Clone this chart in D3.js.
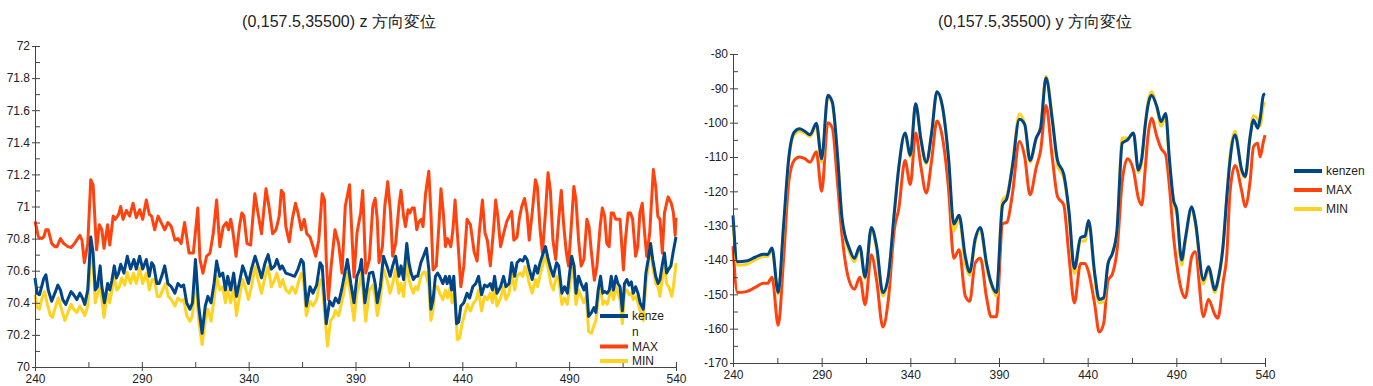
<!DOCTYPE html>
<html>
<head>
<meta charset="utf-8">
<script src="https://cdn.jsdelivr.net/npm/d3@7"></script>
<style>
  body { margin: 0; background: #fff; }
  svg { display: block; font-family: "Liberation Sans", Arial, sans-serif; }
</style>
</head>
<body>
<svg id="chart" width="1373" height="386"></svg>
<script>
// 系列名と色
const seriesNames = ['kenzen', 'MAX', 'MIN'];
const seriesColors = ['#004586', '#ff420e', '#ffd320'];

// 目盛り
const xTicks = [240, 290, 340, 390, 440, 490, 540];
const zTicks = [70, 70.2, 70.4, 70.6, 70.8, 71, 71.2, 71.4, 71.6, 71.8, 72];
const yTicks = [-170, -160, -150, -140, -130, -120, -110, -100, -90, -80];

// タイトル
const zTitle = '(0,157.5,35500) z 方向変位';
const yTitle = '(0,157.5,35500) y 方向変位';

// z 方向変位 [時刻, 値]
const zMax = [[240,70.907],[241.6,70.81],[243.1,70.80],[244.1,70.81],[245.1,70.855],[246.2,70.855],[247.8,70.77],[249.3,70.75],[250.3,70.75],[251.9,70.80],[253.4,70.77],[255.4,70.75],[256.9,70.745],[258.5,70.77],[261,70.82],[262,70.79],[263.1,70.65],[264.7,70.77],[266.1,71.166],[267.2,71.135],[268.8,70.73],[270.1,70.886],[271.3,70.855],[272.3,70.74],[274,70.886],[275,70.76],[276.6,70.94],[277.5,70.92],[279.1,70.95],[280.1,71.0],[281.2,70.92],[282.8,70.975],[284.3,70.94],[285.9,71.02],[287.4,70.93],[289,70.98],[290.4,70.92],[292.1,71.04],[293.5,70.95],[294.6,70.94],[296,70.855],[297.6,70.94],[299.1,70.9],[300.7,70.855],[302.2,70.9],[303.8,70.875],[305.5,70.79],[306.9,70.80],[308.4,70.77],[310,70.9],[312.1,70.71],[314.1,70.71],[316.2,70.99],[317.2,70.67],[318.6,70.585],[320.3,70.69],[321.9,70.71],[323.4,70.83],[325,71.04],[326.5,70.75],[328.1,70.875],[329.6,70.9],[330.6,70.855],[331.6,70.92],[332.6,70.845],[334.1,70.69],[335.7,70.875],[336.8,70.96],[337.8,70.94],[339.2,70.77],[340.9,70.76],[342.9,71.08],[344.6,70.94],[346,70.83],[348.1,71.11],[349.5,71.0],[351.2,70.83],[352.8,70.855],[354.3,70.94],[355.3,71.10],[356.3,71.08],[357.4,70.875],[359,70.78],[360.4,70.92],[361.9,71.02],[363.1,70.96],[364.6,70.855],[366,70.92],[367.2,70.83],[368.7,70.81],[370.1,70.75],[371.4,70.69],[372.8,70.79],[374.4,71.08],[375.5,71.04],[376.3,70.67],[377.3,70.42],[378.6,70.63],[380.4,70.855],[382.1,70.77],[383.7,70.585],[385.2,71.0],[387.2,71.135],[389.3,70.56],[390.7,70.835],[392.4,70.96],[393.4,71.10],[394.8,70.585],[396.5,70.67],[398.1,71.0],[399.2,71.05],[400.2,70.92],[401,70.65],[402.6,70.75],[403.7,71.0],[405.1,71.155],[406.4,70.96],[407.4,70.69],[408.8,70.77],[410.3,71.0],[411.3,71.10],[412.5,70.94],[413.4,70.875],[414.6,70.98],[415.4,70.96],[416.5,70.99],[417.5,70.99],[418.7,70.855],[419.5,70.9],[420.8,70.92],[421.6,70.875],[422.8,71.08],[424.3,71.22],[425.3,70.96],[426.3,70.605],[427.8,70.63],[429,70.875],[430,71.11],[431.1,70.96],[432.1,70.75],[433.1,70.80],[434.6,70.75],[435.6,70.855],[436.6,71.04],[438.1,70.75],[439.3,70.5],[440.7,70.63],[442.2,70.92],[443.8,70.886],[445.5,70.72],[446.9,70.66],[447.9,70.835],[449.4,71.04],[450.6,70.835],[451.7,70.79],[453.1,70.63],[454.6,70.855],[455.6,71.04],[456.6,70.94],[457.9,70.75],[459.3,70.83],[460.8,70.907],[462,70.94],[463.1,70.97],[464.1,70.79],[465.6,70.81],[466.6,70.92],[467.8,71.0],[469.1,71.05],[470.3,70.96],[471.3,70.79],[472.7,70.96],[474.2,71.166],[475.1,71.125],[476.4,70.855],[477.5,70.71],[478.9,70.96],[480.1,71.21],[481.2,71.10],[482.4,70.79],[483.7,70.67],[485.1,70.92],[486.3,71.10],[487.5,70.875],[488.7,70.71],[489.7,70.63],[491.2,70.92],[492.2,71.125],[493.2,71.04],[494.4,70.79],[495.6,70.63],[496.9,70.67],[498.3,70.92],[499.3,70.875],[500.3,70.73],[501.8,70.54],[503,70.63],[504.5,70.875],[505.5,70.99],[506.6,70.94],[507.6,70.77],[508.7,70.75],[509.7,70.96],[510.7,70.96],[511.8,70.92],[512.8,70.92],[513.8,70.92],[515.4,70.605],[516.3,70.79],[517.6,70.96],[518.7,70.96],[519.7,70.92],[521.1,70.69],[522.1,70.75],[523.1,70.96],[524.2,71.02],[525.3,70.835],[526.3,70.69],[527.7,70.835],[529.4,71.23],[530.5,71.125],[531.5,70.94],[532.5,70.92],[533.6,70.71],[534.6,70.96],[536.3,71.06],[537.8,71.02],[538.8,70.96],[539.6,70.82],[540,70.93]];

const zKenzen = [[240,70.554],[241,70.46],[242.1,70.45],[243.1,70.5],[244.1,70.55],[245.1,70.575],[246.2,70.48],[247.8,70.41],[249.3,70.46],[250.7,70.51],[251.9,70.48],[253,70.42],[254.4,70.39],[255.6,70.43],[256.9,70.47],[258.1,70.45],[259.6,70.42],[261,70.46],[262.2,70.43],[263.3,70.39],[264.7,70.48],[266.1,70.81],[267.2,70.71],[268.2,70.48],[269.2,70.5],[270.5,70.63],[271.3,70.5],[272.5,70.40],[274,70.52],[275,70.48],[276,70.54],[277.1,70.63],[278.1,70.555],[279.1,70.585],[280.1,70.64],[281.6,70.585],[283.2,70.69],[284.7,70.61],[286.3,70.67],[287.4,70.61],[289,70.69],[290.4,70.61],[292.1,70.67],[293.5,70.565],[294.6,70.65],[295.6,70.63],[297,70.52],[298.1,70.52],[299.3,70.565],[300.7,70.63],[302.2,70.52],[303.8,70.50],[305.5,70.46],[306.9,70.52],[308.4,70.5],[309.6,70.51],[311,70.40],[312.5,70.36],[313.7,70.40],[315.1,70.67],[316.6,70.38],[318.2,70.21],[319.7,70.38],[320.9,70.44],[322.4,70.40],[323.8,70.52],[325,70.66],[326.5,70.565],[327.9,70.585],[329.1,70.48],[330.2,70.565],[331.6,70.48],[333,70.585],[334.3,70.44],[335.7,70.53],[337.2,70.63],[338.4,70.585],[339.9,70.52],[341.3,70.61],[343,70.69],[344.4,70.63],[346,70.555],[347.7,70.65],[349.1,70.70],[350.6,70.61],[352.2,70.63],[353.2,70.67],[354.7,70.61],[355.7,70.63],[357.4,70.585],[359.4,70.575],[361.5,70.565],[363.1,70.61],[364.6,70.67],[365.6,70.65],[367,70.38],[368.7,70.50],[370.1,70.46],[371.8,70.51],[373.4,70.65],[374.4,70.63],[376.3,70.27],[377.9,70.41],[379.4,70.38],[380.6,70.43],[382.1,70.40],[383.5,70.48],[384.5,70.55],[386.2,70.67],[387.8,70.52],[389.3,70.40],[390.7,70.565],[392,70.61],[392.8,70.67],[394.4,70.40],[396.5,70.585],[398.1,70.59],[399.2,70.52],[400.2,70.40],[401.6,70.50],[403.1,70.69],[404.7,70.63],[406.2,70.565],[407.4,70.63],[408.8,70.69],[410.3,70.565],[411.3,70.63],[412.5,70.545],[414,70.77],[415,70.65],[416,70.585],[417.1,70.545],[418.1,70.565],[419.1,70.565],[420.6,70.65],[421.8,70.69],[423.2,70.74],[424.3,70.61],[425.3,70.36],[426.3,70.42],[427.4,70.565],[428.4,70.585],[429.4,70.565],[430.9,70.52],[432.1,70.565],[432.9,70.52],[434,70.565],[435,70.48],[436,70.565],[437.3,70.27],[438.3,70.28],[439.3,70.38],[440.7,70.40],[442.2,70.46],[443.4,70.43],[444.9,70.50],[446.3,70.52],[447.6,70.565],[449,70.45],[450.4,70.51],[451.7,70.50],[453.1,70.52],[454.1,70.48],[455.1,70.565],[456.2,70.46],[457.9,70.50],[459.3,70.565],[460.4,70.50],[461.9,70.52],[463.1,70.65],[464.5,70.565],[465.6,70.65],[467,70.67],[468.3,70.66],[469.3,70.69],[470.3,70.67],[471.3,70.61],[472.7,70.545],[474.2,70.63],[475.2,70.585],[476.4,70.65],[477.9,70.71],[478.9,70.75],[480.2,70.67],[481.4,70.61],[482.6,70.565],[484.1,70.65],[485.1,70.63],[486.6,70.46],[487.8,70.50],[489.2,70.46],[490.2,70.585],[491.2,70.69],[492.3,70.63],[493.2,70.46],[494.4,70.565],[495.6,70.52],[496.9,70.48],[498,70.52],[499.1,70.315],[500.5,70.34],[501.6,70.37],[502.5,70.34],[503.6,70.48],[504.7,70.565],[505.7,70.46],[506.7,70.47],[507.8,70.46],[508.8,70.48],[509.7,70.565],[510.7,70.48],[511.9,70.565],[512.8,70.52],[513.8,70.50],[514.9,70.35],[515.9,70.52],[517,70.545],[518,70.51],[519.1,70.53],[520,70.46],[521.1,70.50],[522.2,70.46],[523.2,70.40],[524.7,70.36],[525.9,70.585],[527,70.67],[528.1,70.77],[529.1,70.67],[530.5,70.565],[531.6,70.52],[532.5,70.545],[533.5,70.63],[534.6,70.71],[535.6,70.585],[536.6,70.61],[537.6,70.63],[538.6,70.71],[540,70.81]];

const zMin = [[240,70.45],[241,70.37],[242.1,70.36],[243.1,70.42],[244.5,70.47],[245.8,70.39],[247.2,70.32],[248.2,70.31],[249.7,70.38],[250.9,70.43],[252.4,70.36],[254,70.29],[255.4,70.34],[256.9,70.39],[258.1,70.36],[259.6,70.34],[261,70.38],[262.2,70.35],[263.3,70.32],[264.7,70.38],[266.1,70.71],[267.2,70.65],[268.2,70.40],[269.4,70.46],[270.5,70.52],[271.3,70.42],[272.3,70.31],[273.8,70.46],[275,70.40],[276,70.48],[277.1,70.555],[278.3,70.48],[279.5,70.50],[280.6,70.555],[282,70.51],[283.2,70.59],[284.7,70.52],[286.1,70.585],[287.4,70.52],[289,70.615],[290.4,70.52],[292.1,70.585],[293.5,70.48],[294.8,70.545],[296,70.545],[297.2,70.44],[298.5,70.44],[299.7,70.48],[301.1,70.52],[302.4,70.44],[303.8,70.42],[305.5,70.38],[306.9,70.43],[308.4,70.41],[309.6,70.42],[311,70.32],[312.5,70.285],[313.7,70.32],[315.1,70.585],[316.6,70.29],[318.2,70.14],[319.7,70.29],[320.9,70.36],[322.4,70.285],[323.8,70.42],[325,70.565],[326.5,70.48],[327.9,70.50],[329.1,70.40],[330.2,70.48],[331.6,70.40],[333,70.50],[334.3,70.32],[335.7,70.44],[337.2,70.545],[338.4,70.50],[339.9,70.42],[341.3,70.50],[343,70.625],[344.4,70.545],[346,70.46],[347.7,70.565],[349.1,70.625],[350.6,70.50],[352.2,70.545],[353.2,70.585],[354.7,70.50],[355.9,70.545],[357.4,70.48],[359,70.46],[360.4,70.50],[361.9,70.46],[363.1,70.52],[364.6,70.585],[365.6,70.545],[367,70.32],[368.7,70.41],[370.1,70.38],[371.8,70.42],[373.4,70.545],[374.4,70.52],[376.9,70.13],[378.3,70.29],[379.6,70.31],[380.6,70.35],[382.1,70.32],[383.5,70.40],[384.5,70.46],[386.2,70.585],[387.8,70.44],[389.3,70.29],[390.7,70.46],[392,70.52],[392.8,70.585],[394.8,70.285],[396.5,70.48],[398.1,70.51],[399.2,70.44],[400.2,70.32],[401.6,70.42],[403.1,70.61],[404.7,70.545],[406.2,70.46],[407.4,70.52],[408.8,70.61],[410.3,70.46],[411.3,70.52],[412.5,70.44],[414,70.67],[415,70.545],[416,70.50],[417.1,70.46],[418.1,70.50],[419.1,70.48],[420.6,70.565],[421.8,70.59],[422.8,70.59],[424.3,70.50],[425.3,70.29],[426.3,70.36],[427.4,70.50],[428.4,70.50],[429.4,70.46],[430.9,70.42],[432.1,70.48],[433.1,70.43],[434.2,70.49],[435.2,70.40],[436.3,70.48],[437.7,70.17],[438.8,70.18],[439.7,70.26],[441.1,70.33],[442.4,70.39],[443.8,70.35],[445.3,70.40],[446.5,70.42],[447.6,70.48],[449,70.35],[450.4,70.44],[451.7,70.42],[453.1,70.46],[454.1,70.40],[455.1,70.50],[456.2,70.38],[457.9,70.43],[459.3,70.50],[460.4,70.42],[461.9,70.46],[463.1,70.585],[464.5,70.48],[465.6,70.565],[467,70.585],[468.3,70.565],[469.3,70.625],[470.3,70.585],[471.3,70.52],[472.7,70.46],[474.2,70.545],[475.2,70.50],[476.4,70.575],[477.9,70.65],[478.9,70.69],[480.2,70.61],[481.4,70.52],[482.6,70.48],[484.1,70.565],[485.1,70.545],[486.6,70.39],[487.8,70.43],[489.2,70.39],[490.2,70.50],[491.2,70.625],[492.3,70.545],[493.2,70.39],[494.4,70.48],[495.6,70.44],[496.9,70.40],[498,70.44],[499.1,70.22],[500.5,70.21],[501.6,70.26],[502.5,70.29],[503.6,70.42],[504.7,70.50],[505.7,70.39],[506.7,70.41],[507.8,70.39],[508.8,70.44],[509.7,70.50],[510.7,70.42],[511.9,70.50],[512.8,70.46],[513.8,70.42],[514.9,70.27],[515.9,70.46],[517,70.48],[518,70.45],[519.1,70.46],[520,70.42],[521.1,70.44],[522.2,70.40],[523.2,70.35],[524.7,70.29],[525.9,70.52],[527,70.625],[528.1,70.77],[529.1,70.625],[530.5,70.52],[531.6,70.50],[532.5,70.44],[533.5,70.545],[534.6,70.625],[535.6,70.52],[536.6,70.50],[538,70.44],[538.8,70.50],[540,70.647]];

// y 方向変位: 共通の時刻と各系列の値
const yTime = [240,242.5,247.5,252.5,257,259.5,262,265.5,268.5,271.5,274.5,277.5,280.5,283.5,287,290,293.5,296,299,301.5,305.5,308.5,311.5,314.5,318,321,324.5,327.5,331,333.5,337,340,343,346,349,352,355,358,361.5,364.5,367.5,371,373.5,376.5,379.5,383,385.5,388.5,392,394.5,397.5,401.5,404.5,407.5,411,413.5,416.5,420,423,426.5,429.5,432.5,436,438.5,440.5,444,446.5,449,451.5,454,456.5,459.5,462.5,465.8,468.6,470.5,472.4,474,476,479,481.4,484,486,488.4,490.2,493,495,498.7,500.6,505.3,508.1,511.8,513.4,516.5,518.4,520.3,523.1,526.9,528.8,531.6,533.5,535.9,537.2,539.1,540];
const yKenzen = [-127,-140.5,-140.3,-139.2,-138.3,-138.4,-136.5,-149.5,-130,-110,-102.8,-101.8,-102.5,-103.5,-100.2,-110.5,-92,-94,-110,-128,-136.5,-139.5,-136,-145,-130.5,-136,-149.5,-145,-126,-113,-103,-109.5,-94.5,-105,-111.5,-103,-91,-95,-110,-129.5,-127,-139,-143.5,-134,-130.5,-141,-146.5,-149.5,-124,-122,-113,-99,-100.5,-111,-104.5,-101.5,-87,-99,-111,-115,-126,-142.5,-133.5,-133,-128.5,-144,-151.5,-151,-141,-138,-131.5,-106,-105,-103,-113.8,-110.4,-101,-95,-92,-95.3,-99.7,-97.3,-110,-122.5,-125.4,-140,-134,-124.5,-128.4,-145.8,-142,-148.7,-146,-135.1,-122,-110.9,-103.6,-113.8,-115.7,-104.1,-99.2,-101.6,-99,-92,-91.5];
const yMax = [-136,-149.5,-149.2,-148,-146.8,-146.8,-145,-159,-140,-117,-111,-110,-110.5,-111.5,-108.5,-120,-100,-101.5,-118,-133,-146,-148.5,-145,-153,-138.5,-146,-159.5,-152,-131,-125,-111,-118,-103,-113,-120.5,-111,-99.5,-104,-119,-139.5,-137,-150.5,-152,-141,-139.5,-151,-156.5,-156.5,-129.5,-129,-121,-105.5,-110,-121,-113,-108,-95,-110,-121.5,-124,-139,-152.5,-141,-141,-143.5,-153,-161,-158.5,-146,-144,-137.5,-117,-110.5,-113.8,-122,-124,-113.8,-104,-98.7,-104,-107.5,-109.4,-118,-133,-141,-149,-151,-139,-137.6,-156.5,-151.5,-156,-157,-146,-139,-120,-112.5,-120,-124.5,-117,-107,-106,-110,-105.5,-103.6];
const yMin = [-129,-141.5,-141.3,-140,-139,-139,-137,-150,-131,-111,-103.5,-102.5,-103,-104,-101,-111.5,-92.5,-94.5,-110,-128,-137.5,-140.5,-136.5,-145.5,-131,-137,-150.5,-145.5,-126,-113,-103.5,-110,-94.5,-104.5,-112,-103,-91,-95,-110.5,-131.5,-128,-141,-144.5,-135,-131,-142,-147,-150.5,-122.5,-121,-112.5,-97.5,-100.5,-111.5,-104.5,-101,-86.5,-98,-112.5,-116,-127,-144,-134.5,-134.5,-129,-145,-152.5,-152,-141,-138,-132,-104.5,-104.5,-103,-114.5,-111.5,-101,-94,-91,-95.5,-101,-98.5,-111,-123,-126.5,-141.5,-135,-125,-129,-147,-143,-149.5,-147,-135,-122.5,-109.5,-102.5,-114.5,-116,-104,-98,-99,-101,-95,-94];

const svg = d3.select('#chart');

// 小目盛り: 主目盛りの中間
function midTicks(ticks) {
    const out = [];
    for (let i = 0; i < ticks.length - 1; i++) out.push((ticks[i] + ticks[i + 1]) / 2);
    return out;
}

function drawPanel(p) {
    const g = svg.append('g');
    const x = d3.scaleLinear().domain([xTicks[0], xTicks[xTicks.length - 1]]).range([p.left, p.right]);
    const y = d3.scaleLinear().domain([p.yTicks[0], p.yTicks[p.yTicks.length - 1]]).range([p.bottom, p.top]);

    // タイトル
    g.append('text')
        .attr('x', p.titleX)
        .attr('y', 27)
        .attr('text-anchor', 'middle')
        .style('font-size', '16px')
        .style('fill', '#222')
        .text(p.title);

    // 系列の線 (MAX, MIN, kenzen の順で重ねる)
    const line = d3.line().x(d => x(d[0])).y(d => y(d[1])).curve(p.curve);
    [1, 2, 0].forEach(i => {
        g.append('path')
            .datum(p.series[i])
            .attr('fill', 'none')
            .attr('stroke', seriesColors[i])
            .attr('stroke-width', 3)
            .attr('stroke-linejoin', 'round')
            .attr('d', line);
    });

    // Y 軸
    const yAxis = g.append('g')
        .attr('transform', `translate(${p.left},0)`)
        .call(d3.axisLeft(y).tickValues(p.yTicks).tickSizeInner(3).tickSizeOuter(0).tickPadding(2).tickFormat(d => String(d)));
    g.append('g')
        .attr('transform', `translate(${p.left},0)`)
        .call(d3.axisLeft(y).tickValues(p.yTicks.concat(midTicks(p.yTicks))).tickSize(-5).tickFormat(''))
        .select('.domain').remove();

    // X 軸
    const xAxis = g.append('g')
        .attr('transform', `translate(0,${p.bottom})`)
        .call(d3.axisBottom(x).tickValues(xTicks).tickSizeInner(4).tickSizeOuter(0).tickPadding(3));
    g.append('g')
        .attr('transform', `translate(0,${p.bottom})`)
        .call(d3.axisBottom(x).tickValues(xTicks.concat(midTicks(xTicks))).tickSize(-5).tickFormat(''))
        .select('.domain').remove();

    g.selectAll('.tick line, .domain').attr('stroke', '#444');
    g.selectAll('.tick text')
        .style('font-size', '12px')
        .style('font-family', '"Liberation Sans", Arial, sans-serif')
        .style('fill', '#222');

    // 凡例
    let ly = p.legendY;
    seriesNames.forEach((name, i) => {
        g.append('line')
            .attr('x1', p.legendX).attr('x2', p.legendX + 28)
            .attr('y1', ly).attr('y2', ly)
            .attr('stroke', seriesColors[i])
            .attr('stroke-width', 4);
        const t = g.append('text')
            .attr('x', p.legendX + 32)
            .attr('y', ly + 4)
            .style('font-size', '12px')
            .style('fill', '#222');
        // 幅に収まらない名前は折り返す
        let line1 = name;
        t.text(line1);
        while (t.node().getComputedTextLength() > p.legendWidth && line1.length > 1) {
            line1 = line1.slice(0, -1);
            t.text(line1);
        }
        if (line1 !== name) {
            t.text(null);
            t.append('tspan').attr('x', p.legendX + 32).text(line1);
            t.append('tspan').attr('x', p.legendX + 32).attr('dy', 16).text(name.slice(line1.length));
            ly += 16;
        }
        ly += p.legendGap;
    });
}

drawPanel({
    title: zTitle, titleX: 339,
    left: 35, right: 676, top: 46, bottom: 367,
    yTicks: zTicks,
    series: [zKenzen, zMax, zMin],
    curve: d3.curveLinear,
    legendX: 600, legendY: 316, legendGap: 14.5, legendWidth: 34
});

drawPanel({
    title: yTitle, titleX: 1035,
    left: 733, right: 1265, top: 54, bottom: 363,
    yTicks: yTicks,
    series: [yTime.map((t, i) => [t, yKenzen[i]]), yTime.map((t, i) => [t, yMax[i]]), yTime.map((t, i) => [t, yMin[i]])],
    curve: d3.curveMonotoneX,
    legendX: 1294, legendY: 171, legendGap: 19, legendWidth: 80
});
</script>
</body>
</html>
